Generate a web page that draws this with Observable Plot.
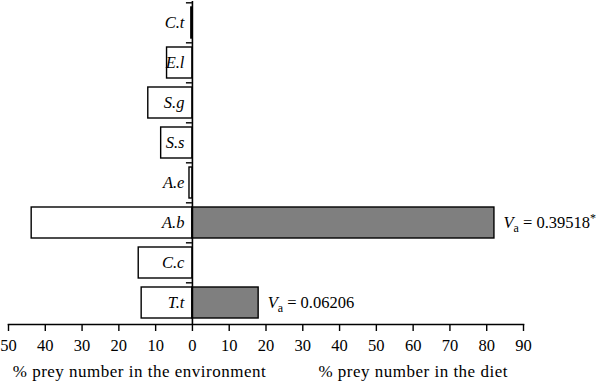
<!DOCTYPE html>
<html>
<head>
<meta charset="utf-8">
<script src="https://cdn.jsdelivr.net/npm/d3@7"></script>
<script src="https://cdn.jsdelivr.net/npm/@observablehq/plot@0.6"></script>
<style>
  html, body { margin: 0; padding: 0; background: #fff; }
  #chart svg { display: block; }
</style>
</head>
<body>
<div id="chart"></div>
<script>
const species = ["C.t", "E.l", "S.g", "S.s", "A.e", "A.b", "C.c", "T.t"];
const envPct  = [0.3, 6.9, 12.0, 8.5, 0.8, 43.7, 14.6, 13.8];
const dietPct = [0, 0, 0, 0, 0, 82.1, 0, 18.0];
const vaLabels = ["", "", "", "", "", "0.39518*", "", "0.06206"];
const xTicks = [-50, -40, -30, -20, -10, 0, 10, 20, 30, 40, 50, 60, 70, 80, 90];
const titleEnv = "% prey number in the environment";
const titleDiet = "% prey number in the diet";

const rows = species.map((s, i) => ({ s, env: envPct[i], diet: dietPct[i], va: vaLabels[i] }));
const font = "Liberation Serif, Times New Roman, serif";

const H = 385, W = 600, mTop = 1, mBottom = 61;
const step = (H - mTop - mBottom) / species.length;
const xDomain = [-50, 90];
const pxPerUnit = (W - 8 - 77) / (xDomain[1] - xDomain[0]);
const yTickLen = 6 / pxPerUnit;

const plot = Plot.plot({
  width: W,
  height: H,
  marginLeft: 8,
  marginRight: 77,
  marginTop: mTop,
  marginBottom: mBottom,
  style: { fontFamily: font, fontSize: "16px", color: "#000", background: "#fff" },
  x: { domain: xDomain },
  y: { domain: species, paddingInner: 0.23, paddingOuter: 0.115, axis: null },
  marks: [
    Plot.barX(rows, { y: "s", x1: d => -d.env, x2: 0, fill: "white", stroke: "black", strokeWidth: 1.4 }),
    Plot.barX(rows.filter(d => d.diet > 0), { y: "s", x1: 0, x2: "diet", fill: "#7f7f7f", stroke: "black", strokeWidth: 1.4 }),
    Plot.ruleY(species, { y: d => d, x1: -yTickLen, x2: 0, dy: -step / 2, stroke: "black", strokeWidth: 1.4 }),
    Plot.ruleX([0], { stroke: "black", strokeWidth: 1.6 }),
    Plot.text(rows, { y: "s", x: 0, text: "s", textAnchor: "end", dx: -8, fontStyle: "italic", fontSize: 16.5 }),
    Plot.text(rows.filter(d => d.va), { y: "s", x: "diet", text: d => "V|a| = " + d.va, textAnchor: "start", dx: 9, fontSize: 16.5 }),
    Plot.frame({ anchor: "bottom", strokeWidth: 1.6 }),
    Plot.axisX({ ticks: xTicks, tickFormat: d => Math.abs(d), tickSize: 7, tickPadding: 8, label: null, fontSize: 16.5, strokeWidth: 1.4 }),
    Plot.text([titleEnv], { x: -14.4, frameAnchor: "bottom", dy: 52, text: d => d, textAnchor: "middle", fontSize: 17, className: "atitle" }),
    Plot.text([titleDiet], { x: 60, frameAnchor: "bottom", dy: 52, text: d => d, textAnchor: "middle", fontSize: 17, className: "atitle" })
  ]
});

// Rich formatting of the V_a annotations (italic V, subscript a, superscript *)
d3.select(plot).selectAll("text").each(function () {
  const raw = this.textContent;
  if (!raw.includes("|")) return;
  const parts = raw.split("|");
  const sel = d3.select(this);
  sel.text(null);
  sel.append("tspan").attr("font-style", "italic").text(parts[0]);
  sel.append("tspan").attr("font-size", "12px").attr("dy", "4").text(parts[1]);
  let rest = parts[2];
  let star = "";
  if (rest.endsWith("*")) { star = "*"; rest = rest.slice(0, -1); }
  sel.append("tspan").attr("dy", "-4").text(rest);
  if (star) sel.append("tspan").attr("font-size", "12px").attr("dy", "-6").text(star);
});
d3.select(plot).selectAll("text").filter(function () {
  return this.textContent === titleEnv || this.textContent === titleDiet;
}).attr("letter-spacing", "0.5px");

document.getElementById("chart").appendChild(plot);
</script>
</body>
</html>
